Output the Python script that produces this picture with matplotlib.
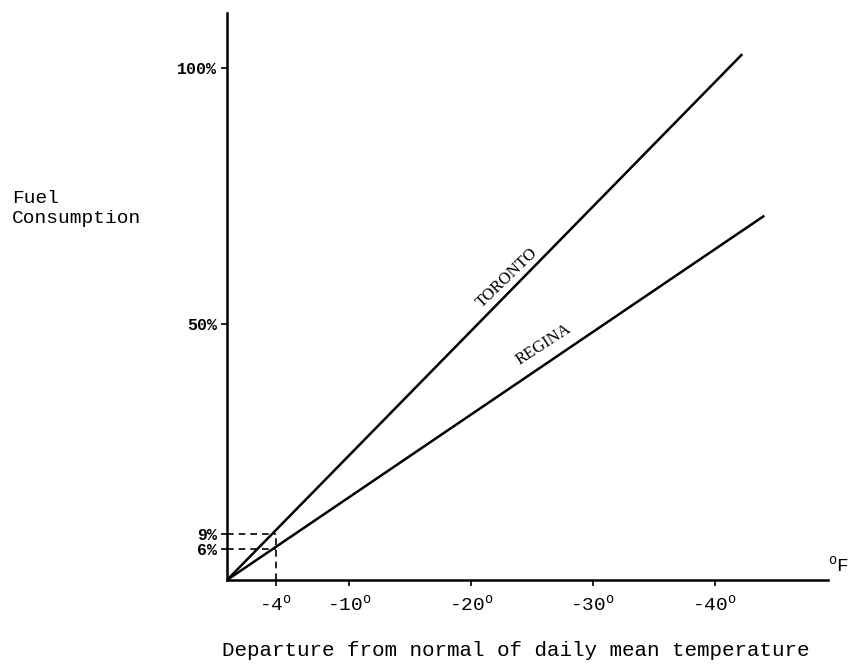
import matplotlib.pyplot as plt

plt.rcParams['mathtext.fontset'] = 'custom'
plt.rcParams['mathtext.rm'] = 'Liberation Mono'

# values
toronto_temp = [0, -42.2]
toronto_fuel = [0, 102.5]
regina_temp = [0, -44.0]
regina_fuel = [0, 71.0]

marker_temp = -4
marker_fuel = [9, 6]   # toronto, regina at -4 deg

x_ticks = [-4, -10, -20, -30, -40]
x_labels = ['-4$^{\\rm o}$', '-10$^{\\rm o}$', '-20$^{\\rm o}$', '-30$^{\\rm o}$', '-40$^{\\rm o}$']
y_ticks = [6, 9, 50, 100]
y_labels = ['6%', '9%', '50%', '100%']

FONT = 'Liberation Mono'

fig = plt.figure(figsize=(8.54, 6.69), dpi=100)
ax = fig.add_axes([0.2658, 0.133, 0.7037, 0.8475])

ax.plot(toronto_temp, toronto_fuel, color='black', lw=1.8)
ax.plot(regina_temp, regina_fuel, color='black', lw=1.8)

# dashed guides at -4 degrees
for f in marker_fuel:
    ax.plot([0, marker_temp], [f, f], color='black', lw=1.2, ls=(0, (4, 3)))
ax.plot([marker_temp, marker_temp], [0, max(marker_fuel)], color='black', lw=1.2, ls=(0, (4, 3)))

ax.set_xlim(0, -49.3)
ax.set_ylim(0, 110.7)

ax.spines['top'].set_visible(False)
ax.spines['right'].set_visible(False)
ax.spines['left'].set_linewidth(1.8)
ax.spines['bottom'].set_linewidth(1.8)

ax.set_xticks(x_ticks)
ax.set_xticklabels(x_labels, fontfamily=FONT, fontsize=14)
ax.set_yticks(y_ticks)
ax.set_yticklabels(y_labels, fontfamily=FONT, fontsize=12, fontweight='bold')
ax.tick_params(axis='x', length=4, width=1.2, pad=6)
ax.tick_params(axis='y', length=4, width=1.2, pad=3)

# line labels
ax.text(-23.0, 59.0, 'TORONTO', rotation=44, ha='center', va='center',
        fontfamily='Liberation Serif', fontsize=12)
ax.text(-26.0, 46.0, 'REGINA', rotation=33, ha='center', va='center',
        fontfamily='Liberation Serif', fontsize=12)

fig.text(828 / 854, 1 - 566 / 669, '$^{\\rm o}$F', fontfamily=FONT, fontsize=14,
         ha='left', va='center')
fig.text(12 / 854, 1 - 190 / 669, 'Fuel\nConsumption', fontfamily=FONT, fontsize=14,
         ha='left', va='top', linespacing=1.2)
fig.text(516 / 854, 1 - 650 / 669, 'Departure from normal of daily mean temperature',
         fontfamily=FONT, fontsize=15, ha='center', va='center')

fig.savefig('out.png', dpi=100)
